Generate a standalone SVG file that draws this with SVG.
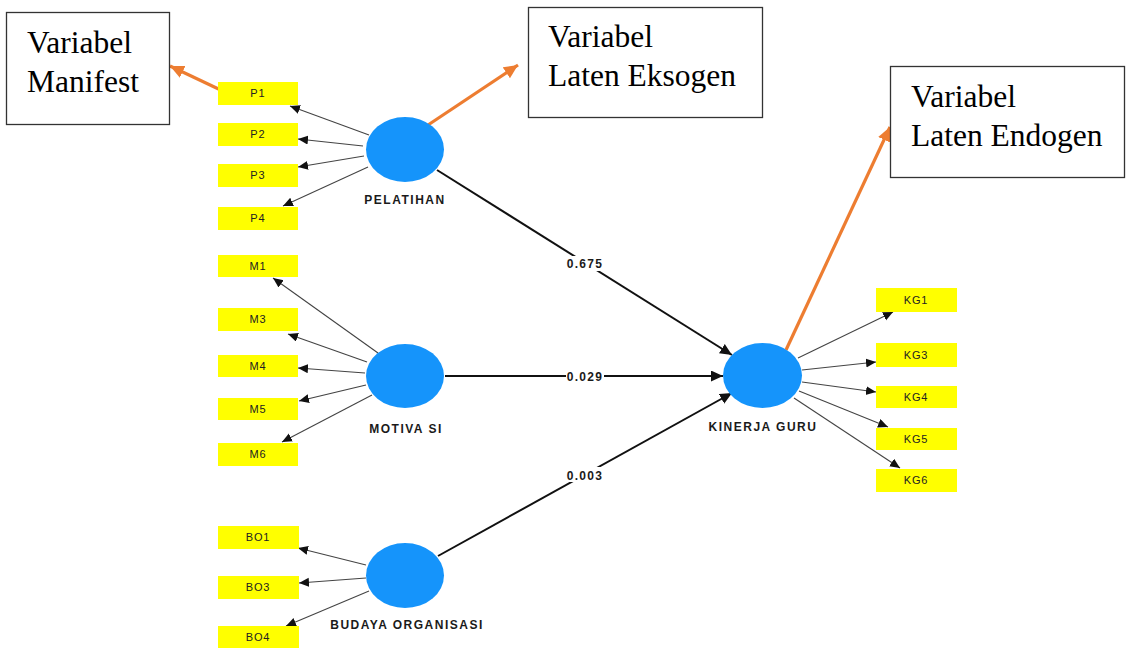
<svg xmlns="http://www.w3.org/2000/svg" width="1131" height="650" viewBox="0 0 1131 650">
  <style>
    .ind rect { fill: #ffff00; }
    .ind text { font-family: "Liberation Sans", Arial, sans-serif; font-size: 11px; fill: #222; text-anchor: middle; letter-spacing: 0.9px; }
    .lat ellipse { fill: #1594fb; }
    .lat text { font-family: "Liberation Sans", Arial, sans-serif; font-size: 12px; font-weight: bold; fill: #1a1a1a; text-anchor: middle; letter-spacing: 1.5px; }
    .note rect { fill: #fff; stroke: #333; stroke-width: 1.3; }
    .note text { font-family: "Liberation Serif", "Times New Roman", serif; font-size: 31.5px; fill: #000; }
    .load { stroke: #444; stroke-width: 1.1; fill: none; marker-end: url(#tipS); }
    .path { stroke: #111; stroke-width: 2; fill: none; marker-end: url(#tipL); }
    .callout { stroke: #ed7d31; stroke-width: 3.2; fill: none; marker-end: url(#tipO); }
    .coef rect { fill: #fff; }
    .coef text { font-family: "Liberation Sans", Arial, sans-serif; font-size: 12px; font-weight: bold; fill: #1a1a1a; text-anchor: middle; letter-spacing: 1.3px; }
  </style>
  <defs>
    <marker id="tipS" markerUnits="userSpaceOnUse" markerWidth="12" markerHeight="10" refX="10" refY="4.5" orient="auto">
      <path d="M0,0 L10,4.5 L0,9 Z" fill="#111"/>
    </marker>
    <marker id="tipL" markerUnits="userSpaceOnUse" markerWidth="14" markerHeight="12" refX="12" refY="5.5" orient="auto">
      <path d="M0,0 L12,5.5 L0,11 Z" fill="#111"/>
    </marker>
    <marker id="tipO" markerUnits="userSpaceOnUse" markerWidth="16" markerHeight="14" refX="14" refY="6.5" orient="auto">
      <path d="M0,0 L14,6.5 L0,13 Z" fill="#ed7d31"/>
    </marker>
  </defs>

  <rect width="1131" height="650" fill="#fff"/>

  <!-- connectors -->
  <g id="connectors">
    <!-- outer loadings: PELATIHAN -->
    <line class="load" x1="369" y1="135" x2="290" y2="106"/>
    <line class="load" x1="363" y1="146" x2="298" y2="139"/>
    <line class="load" x1="364" y1="156" x2="298" y2="167"/>
    <line class="load" x1="368" y1="167" x2="283" y2="206"/>
    <!-- outer loadings: MOTIVASI -->
    <line class="load" x1="378" y1="353" x2="273" y2="278"/>
    <line class="load" x1="367" y1="362" x2="288" y2="334"/>
    <line class="load" x1="365" y1="373" x2="298" y2="368"/>
    <line class="load" x1="366" y1="385" x2="299" y2="401"/>
    <line class="load" x1="372" y1="395" x2="282" y2="442"/>
    <!-- outer loadings: BUDAYA ORGANISASI -->
    <line class="load" x1="366" y1="565" x2="298" y2="548"/>
    <line class="load" x1="366" y1="578" x2="299" y2="583"/>
    <line class="load" x1="369" y1="591" x2="286" y2="626"/>
    <!-- outer loadings: KINERJA GURU -->
    <line class="load" x1="798" y1="358" x2="893" y2="312"/>
    <line class="load" x1="802" y1="370" x2="876" y2="362"/>
    <line class="load" x1="802" y1="382" x2="876" y2="392"/>
    <line class="load" x1="799" y1="391" x2="888" y2="427"/>
    <line class="load" x1="794" y1="398" x2="900" y2="468"/>

    <!-- inner paths -->
    <line class="path" x1="437" y1="170" x2="732" y2="355"/>
    <line class="path" x1="445" y1="376" x2="723" y2="376"/>
    <line class="path" x1="438" y1="556" x2="732" y2="393"/>

    <g class="coef">
      <rect x="566" y="256" width="38" height="15"/>
      <text x="585" y="268">0.675</text>
      <rect x="566" y="370" width="38" height="13"/>
      <text x="585" y="381">0.029</text>
      <rect x="566" y="467" width="38" height="15"/>
      <text x="585" y="480">0.003</text>
    </g>

    <!-- call-out arrows -->
    <line class="callout" x1="227" y1="93" x2="170" y2="66"/>
    <line class="callout" x1="428" y1="125" x2="518" y2="65"/>
    <line class="callout" x1="786" y1="350" x2="890" y2="127"/>
  </g>

  <!-- latent variables -->
  <g id="pelatihan" class="lat">
    <ellipse cx="405" cy="149.5" rx="39" ry="32.5"/>
    <text x="405" y="204">PELATIHAN</text>
  </g>
  <g id="motivasi" class="lat">
    <ellipse cx="405" cy="376" rx="39" ry="32"/>
    <text x="406" y="433">MOTIVA SI</text>
  </g>
  <g id="budaya-organisasi" class="lat">
    <ellipse cx="405" cy="575.5" rx="39" ry="32.5"/>
    <text x="407" y="629">BUDAYA ORGANISASI</text>
  </g>
  <g id="kinerja-guru" class="lat">
    <ellipse cx="762.5" cy="375.5" rx="39.5" ry="32.5"/>
    <text x="763" y="431">KINERJA GURU</text>
  </g>

  <!-- indicators -->
  <g id="P1" class="ind"><rect x="218" y="82" width="80" height="23"/><text x="258" y="97">P1</text></g>
  <g id="P2" class="ind"><rect x="218" y="123" width="80" height="23"/><text x="258" y="138">P2</text></g>
  <g id="P3" class="ind"><rect x="218" y="164" width="80" height="23"/><text x="258" y="179">P3</text></g>
  <g id="P4" class="ind"><rect x="218" y="207" width="80" height="23"/><text x="258" y="222">P4</text></g>

  <g id="M1" class="ind"><rect x="218" y="255" width="80" height="22"/><text x="258" y="270">M1</text></g>
  <g id="M3" class="ind"><rect x="218" y="308" width="80" height="23"/><text x="258" y="323">M3</text></g>
  <g id="M4" class="ind"><rect x="218" y="355" width="80" height="22"/><text x="258" y="370">M4</text></g>
  <g id="M5" class="ind"><rect x="218" y="398" width="80" height="22"/><text x="258" y="413">M5</text></g>
  <g id="M6" class="ind"><rect x="218" y="443" width="80" height="23"/><text x="258" y="458">M6</text></g>

  <g id="BO1" class="ind"><rect x="218" y="526" width="81" height="23"/><text x="258" y="541">BO1</text></g>
  <g id="BO3" class="ind"><rect x="218" y="576" width="81" height="23"/><text x="258" y="591">BO3</text></g>
  <g id="BO4" class="ind"><rect x="218" y="626" width="81" height="22"/><text x="258" y="641">BO4</text></g>

  <g id="KG1" class="ind"><rect x="876" y="288" width="81" height="24"/><text x="916" y="304">KG1</text></g>
  <g id="KG3" class="ind"><rect x="876" y="343" width="81" height="24"/><text x="916" y="359">KG3</text></g>
  <g id="KG4" class="ind"><rect x="876" y="386" width="81" height="22"/><text x="916" y="401">KG4</text></g>
  <g id="KG5" class="ind"><rect x="876" y="428" width="81" height="22"/><text x="916" y="443">KG5</text></g>
  <g id="KG6" class="ind"><rect x="876" y="469" width="81" height="23"/><text x="916" y="484">KG6</text></g>

  <!-- annotation boxes -->
  <g id="note-manifest" class="note">
    <rect x="6.5" y="12.5" width="163" height="112"/>
    <text x="27" y="53">Variabel</text>
    <text x="27" y="92">Manifest</text>
  </g>
  <g id="note-eksogen" class="note">
    <rect x="528.5" y="7.5" width="234" height="110"/>
    <text x="548" y="47">Variabel</text>
    <text x="548" y="86">Laten Eksogen</text>
  </g>
  <g id="note-endogen" class="note">
    <rect x="890.5" y="66.5" width="234" height="111"/>
    <text x="911" y="107">Variabel</text>
    <text x="911" y="146">Laten Endogen</text>
  </g>
</svg>
